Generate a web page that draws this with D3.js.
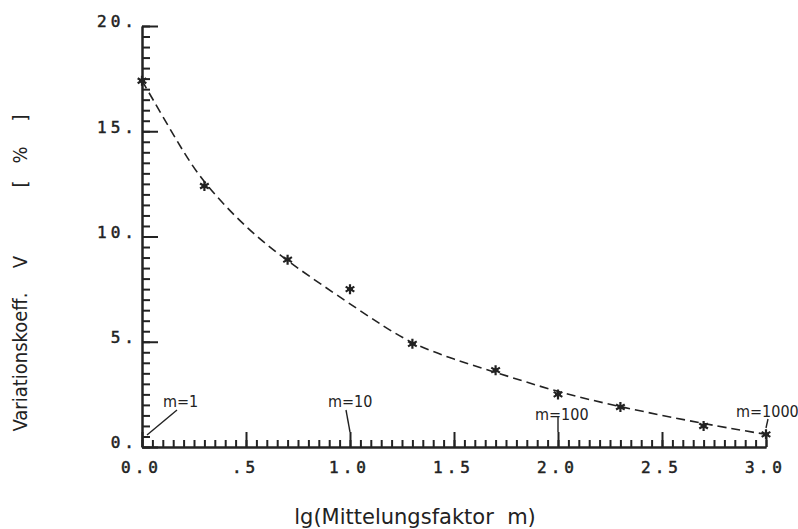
<!DOCTYPE html>
<html>
<head>
<meta charset="utf-8">
<script src="https://cdn.jsdelivr.net/npm/d3@7"></script>
<style>
  body { margin: 0; background: #fff; }
  .tick text { font-family: "DejaVu Sans Mono", monospace; font-size: 16px; fill: #222; stroke: #222; stroke-width: 0.5; letter-spacing: 4px; }
  .domain, .tick line { stroke: #222; stroke-width: 2; }
  .note { font-family: "Liberation Sans Narrow", "DejaVu Sans Condensed", sans-serif; font-size: 16px; fill: #222; }
</style>
</head>
<body>
<div class="content"></div>
<script>
var svgWidth = 798;   // Width of the SVG element.
var svgHeight = 529;  // Height of the SVG element.

// Measured points: lg(m) and variation coefficient in percent.
var pointLg = [0.0, 0.30, 0.70, 1.0, 1.30, 1.70, 2.0, 2.30, 2.70, 3.0];
var pointV = [17.4, 12.4, 8.9, 7.5, 4.9, 3.65, 2.5, 1.9, 1.0, 0.6];

// Fitted curve.
var curveLg = [0.0, 0.1, 0.2, 0.3, 0.5, 0.7, 1.0, 1.15, 1.3, 1.5, 1.7, 2.0, 2.3, 2.7, 3.0];
var curveV = [17.4, 15.7, 14.0, 12.5, 10.4, 8.8, 6.8, 5.8, 4.9, 4.15, 3.55, 2.6, 1.9, 1.1, 0.6];

// Tick values and labels.
var xTicks = [0, 0.5, 1.0, 1.5, 2.0, 2.5, 3.0];
var xTickLabels = ["0.0", ".5", "1.0", "1.5", "2.0", "2.5", "3.0"];
var yTicks = [0, 5, 10, 15, 20];
var yTickLabels = ["0.", "5.", "10.", "15.", "20."];

// Annotations at the decades.
var noteLg = [0, 1, 2, 3];
var noteText = ["m=1", "m=10", "m=100", "m=1000"];

var x = d3.scaleLinear().domain([0, 3]).range([142, 766]);
var y = d3.scaleLinear().domain([0, 20]).range([447, 26]);

var svg = d3.select(".content")
  .append("svg")
    .attr("width", svgWidth)
    .attr("height", svgHeight);

// Minor ticks.
svg.append("g")
  .attr("transform", "translate(0," + y(0) + ")")
  .call(d3.axisBottom(x).tickValues(d3.range(0, 3.001, 0.05)).tickSizeInner(-7).tickSizeOuter(0).tickFormat(""));
svg.append("g")
  .attr("transform", "translate(" + x(0) + ",0)")
  .call(d3.axisLeft(y).tickValues(d3.range(0, 20.001, 0.5)).tickSizeInner(-8).tickSizeOuter(0).tickFormat(""));

// Major ticks with labels.
svg.append("g")
  .attr("transform", "translate(0," + y(0) + ")")
  .call(d3.axisBottom(x).tickValues(xTicks).tickSizeInner(-15).tickSizeOuter(0).tickPadding(15)
    .tickFormat(function(d, i) { return xTickLabels[i]; }))
  .call(function(g) { g.selectAll(".tick text").attr("dx", "-1px"); });
svg.append("g")
  .attr("transform", "translate(" + x(0) + ",0)")
  .call(d3.axisLeft(y).tickValues(yTicks).tickSizeInner(-16).tickSizeOuter(0).tickPadding(4)
    .tickFormat(function(d, i) { return yTickLabels[i]; }))
  .call(function(g) { g.selectAll(".tick text").attr("dy", "0.05em"); });

// Dashed fitted curve.
svg.append("path")
  .datum(d3.zip(curveLg, curveV))
  .attr("fill", "none")
  .attr("stroke", "#222")
  .attr("stroke-width", 1.6)
  .attr("stroke-dasharray", "9,5")
  .attr("d", d3.line()
    .x(function(d) { return x(d[0]); })
    .y(function(d) { return y(d[1]); })
    .curve(d3.curveBasis));

// Asterisk markers.
var r = 5;
var star = "M0," + (-r) + "V" + r +
  "M" + (-r * 0.87) + "," + (-r * 0.5) + "L" + (r * 0.87) + "," + (r * 0.5) +
  "M" + (-r * 0.87) + "," + (r * 0.5) + "L" + (r * 0.87) + "," + (-r * 0.5) +
  "M" + (-r * 0.6) + ",0H" + (r * 0.6);
svg.selectAll(".pt")
  .data(d3.zip(pointLg, pointV))
  .enter().append("path")
    .attr("class", "pt")
    .attr("transform", function(d) { return "translate(" + x(d[0]) + "," + y(d[1]) + ")"; })
    .attr("d", star)
    .attr("stroke", "#222")
    .attr("stroke-width", 2.2);

// Annotation labels with leader lines (offsets relative to the axis point).
var noteOffsets = [
  {tx: 21, ty: -40, x1: 35, y1: -37, x2: 5, y2: -12},
  {tx: -22, ty: -40, x1: -4, y1: -37, x2: 0, y2: -15},
  {tx: -23, ty: -27, x1: 0, y1: -31, x2: 0, y2: -15},
  {tx: -30, ty: -30, x1: 2, y1: -28, x2: 0, y2: -19}
];
noteLg.forEach(function(lg, i) {
  var o = noteOffsets[i];
  var px = x(lg), py = y(0);
  svg.append("line")
    .attr("x1", px + o.x1).attr("y1", py + o.y1)
    .attr("x2", px + o.x2).attr("y2", py + o.y2)
    .attr("stroke", "#222").attr("stroke-width", 1.4);
  svg.append("text")
    .attr("class", "note")
    .attr("x", px + o.tx).attr("y", py + o.ty)
    .attr("font-size", i === 3 ? 15 : 16)
    .text(noteText[i]);
});

// X axis title.
svg.append("text")
  .attr("x", 415).attr("y", 524)
  .attr("text-anchor", "middle")
  .attr("font-family", "DejaVu Sans, sans-serif")
  .attr("font-size", 21)
  .attr("fill", "#222")
  .text("lg(Mittelungsfaktor\u00a0\u00a0m)");

// Y axis title, pieces placed along the rotated axis.
var yTitle = [
  {t: "Variationskoeff.", c: 362},
  {t: "V", c: 262},
  {t: "[", c: 184},
  {t: "%", c: 155},
  {t: "]", c: 118}
];
yTitle.forEach(function(p) {
  svg.append("text")
    .attr("transform", "translate(27," + p.c + ") rotate(-90)")
    .attr("text-anchor", "middle")
    .attr("font-family", "Liberation Sans Narrow, DejaVu Sans Condensed, sans-serif")
    .attr("font-size", 20)
    .attr("fill", "#222")
    .text(p.t);
});
</script>
</body>
</html>
